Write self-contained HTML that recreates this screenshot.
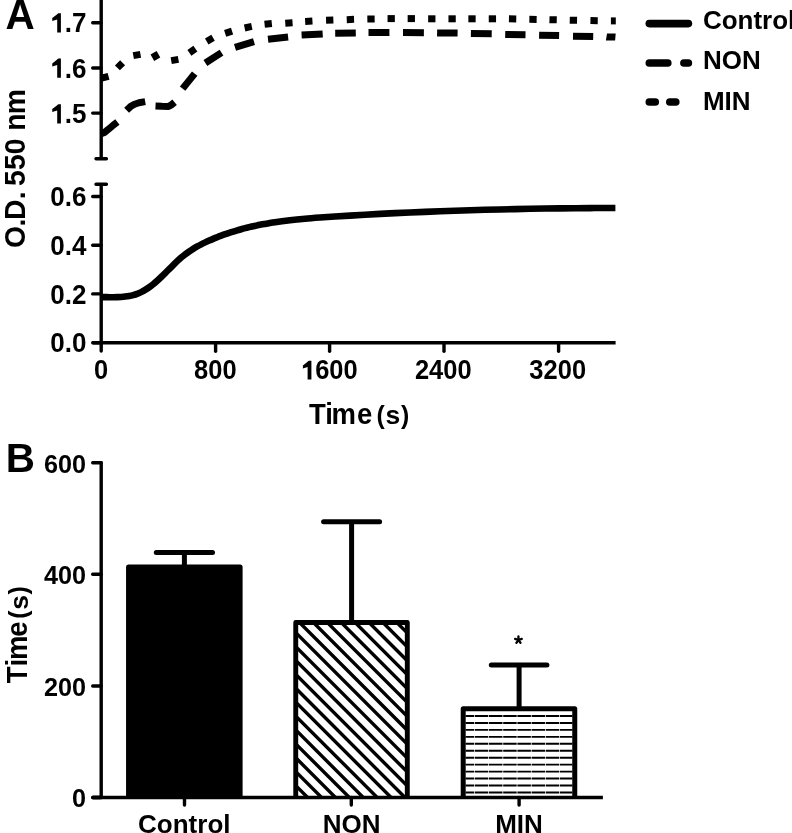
<!DOCTYPE html>
<html><head><meta charset="utf-8"><style>
html,body{margin:0;padding:0;background:#fff;}
svg{display:block;will-change:transform;}
text{font-family:"Liberation Sans",sans-serif;font-weight:bold;fill:#000;}
.ax{stroke:#000;stroke-width:3.4;fill:none;stroke-linecap:round;}
.tl{font-size:26px;}
.lg{font-size:26px;}
.dash{stroke:#000;stroke-width:7;fill:none;stroke-linecap:butt;stroke-linejoin:round;}
.leg{stroke:#000;stroke-width:7.6;fill:none;stroke-linecap:round;}
.eb{stroke:#000;stroke-width:5;fill:none;stroke-linecap:round;}
</style></head><body>
<svg width="792" height="833" viewBox="0 0 792 833">
<text transform="translate(5.4,28.8) scale(1,1.04)" style="font-size:40.5px">A</text>
<path d="M101.2,-3 V158.7 M96,158.7 H106.4" class="ax"/>
<path d="M92.7,22.7 H101.2" class="ax"/>
<path d="M92.7,68.0 H101.2" class="ax"/>
<path d="M92.7,113.1 H101.2" class="ax"/>
<path d="M96,184.3 H106.4 M101.2,184.3 V351.1" class="ax"/>
<path d="M92.7,196.5 H101.2" class="ax"/>
<path d="M92.7,245.2 H101.2" class="ax"/>
<path d="M92.7,293.9 H101.2" class="ax"/>
<path d="M92.7,342.7 H615.6" class="ax" style="stroke-linecap:butt"/>
<path d="M92.7,342.7 H100" class="ax"/>
<path d="M215.6,342.7 V351.2" class="ax"/>
<path d="M329.6,342.7 V351.2" class="ax"/>
<path d="M444.0,342.7 V351.2" class="ax"/>
<path d="M558.6,342.7 V351.2" class="ax"/>
<text transform="translate(86.5,32.45) scale(1,1.09)" text-anchor="end" style="font-size:26px">.7</text>
<path d="M60.90,32.45 L57.20,32.45 L57.20,19.60 L52.25,21.10 L52.25,18.10 L56.90,14.50 Q57.60,13.35 58.40,13.15 L60.90,13.15 Z" fill="#000"/>
<text transform="translate(86.5,77.75) scale(1,1.09)" text-anchor="end" style="font-size:26px">.6</text>
<path d="M60.90,77.75 L57.20,77.75 L57.20,64.90 L52.25,66.40 L52.25,63.40 L56.90,59.80 Q57.60,58.65 58.40,58.45 L60.90,58.45 Z" fill="#000"/>
<text transform="translate(86.5,123.45) scale(1,1.09)" text-anchor="end" style="font-size:26px">.5</text>
<path d="M60.90,123.45 L57.20,123.45 L57.20,110.60 L52.25,112.10 L52.25,109.10 L56.90,105.50 Q57.60,104.35 58.40,104.15 L60.90,104.15 Z" fill="#000"/>
<text transform="translate(86.5,206.25) scale(1,1.09)" text-anchor="end" style="font-size:26px">0.6</text>
<text transform="translate(86.5,254.95) scale(1,1.09)" text-anchor="end" style="font-size:26px">0.4</text>
<text transform="translate(86.5,303.75) scale(1,1.09)" text-anchor="end" style="font-size:26px">0.2</text>
<text transform="translate(86.5,352.45) scale(1,1.09)" text-anchor="end" style="font-size:26px">0.0</text>
<text transform="translate(101.2,379.20) scale(1,1.075)" text-anchor="middle" style="font-size:25.5px">0</text>
<text transform="translate(215.3,379.20) scale(1,1.075)" text-anchor="middle" style="font-size:25.5px">800</text>
<text transform="translate(443.3,379.20) scale(1,1.075)" text-anchor="middle" style="font-size:25.5px">2400</text>
<text transform="translate(557.7,379.20) scale(1,1.075)" text-anchor="middle" style="font-size:25.5px">3200</text>
<text transform="translate(357.7,379.20) scale(1,1.075)" text-anchor="end" style="font-size:25.5px">600</text>
<path d="M311.40,379.60 L307.60,379.60 L307.60,367.02 L302.90,368.49 L302.90,365.55 L307.30,362.02 Q308.00,360.90 308.80,360.70 L311.40,360.70 Z" fill="#000"/>
<text transform="translate(0,423.8) scale(1,1.07)" x="309.1 325.2 331.5 356.9" y="0" style="font-size:27.5px">Time</text>
<text transform="translate(0,424.0) scale(1,1.07)" x="376.6" y="0" style="font-size:24.8px">(</text>
<text transform="translate(0,424.1)" x="385.6" y="0" style="font-size:26.5px">s</text>
<text transform="translate(0,424.0) scale(1,1.07)" x="400.9" y="0" style="font-size:24.8px">)</text>
<g transform="translate(25.0,246.8) rotate(-90) scale(1,1.03)"><text x="-1.13 20.18 26.78 47.68 60.87 76.77 92.57 115.96 132.56" y="0" style="font-size:28.3px">O.D.550nm</text></g>
<path d="M101.20,297.14 C101.87,297.14 103.87,297.13 105.20,297.14 C106.53,297.15 107.87,297.17 109.20,297.18 C110.53,297.19 111.87,297.21 113.20,297.21 C114.53,297.21 115.87,297.20 117.20,297.16 C118.53,297.12 119.87,297.07 121.20,296.98 C122.53,296.89 123.87,296.77 125.20,296.60 C126.53,296.44 127.87,296.25 129.20,295.99 C130.53,295.74 131.87,295.44 133.20,295.07 C134.53,294.70 135.87,294.29 137.20,293.80 C138.53,293.31 139.87,292.75 141.20,292.11 C142.53,291.47 143.87,290.75 145.20,289.95 C146.53,289.15 147.87,288.25 149.20,287.29 C150.53,286.33 151.87,285.28 153.20,284.19 C154.53,283.10 155.87,281.93 157.20,280.73 C158.53,279.53 159.87,278.28 161.20,277.01 C162.53,275.74 163.87,274.41 165.20,273.09 C166.53,271.76 167.87,270.40 169.20,269.06 C170.53,267.72 171.87,266.37 173.20,265.06 C174.53,263.75 175.87,262.44 177.20,261.20 C178.53,259.96 179.87,258.75 181.20,257.61 C182.53,256.47 183.87,255.39 185.20,254.37 C186.53,253.35 187.87,252.39 189.20,251.47 C190.53,250.55 191.87,249.68 193.20,248.85 C194.53,248.02 195.87,247.24 197.20,246.49 C198.53,245.74 199.87,245.03 201.20,244.35 C202.53,243.66 203.87,243.01 205.20,242.38 C206.53,241.75 207.87,241.15 209.20,240.56 C210.53,239.97 211.87,239.40 213.20,238.84 C214.53,238.28 215.87,237.75 217.20,237.22 C218.53,236.69 219.87,236.18 221.20,235.68 C222.53,235.18 223.87,234.70 225.20,234.23 C226.53,233.76 227.87,233.31 229.20,232.87 C230.53,232.43 231.87,232.00 233.20,231.58 C234.53,231.16 235.87,230.76 237.20,230.37 C238.53,229.98 239.87,229.60 241.20,229.23 C242.53,228.86 243.87,228.51 245.20,228.17 C246.53,227.83 247.87,227.49 249.20,227.17 C250.53,226.85 251.87,226.54 253.20,226.24 C254.53,225.94 256.07,225.61 257.20,225.37 C258.33,225.13 257.03,225.33 260.00,224.80 C262.97,224.27 270.00,222.95 275.00,222.18 C280.00,221.41 285.00,220.78 290.00,220.20 C295.00,219.62 300.00,219.14 305.00,218.70 C310.00,218.25 315.00,217.89 320.00,217.53 C325.00,217.17 330.00,216.85 335.00,216.53 C340.00,216.21 345.00,215.90 350.00,215.60 C355.00,215.30 360.00,215.01 365.00,214.73 C370.00,214.45 375.00,214.18 380.00,213.92 C385.00,213.66 390.00,213.41 395.00,213.17 C400.00,212.93 405.00,212.70 410.00,212.48 C415.00,212.26 420.00,212.04 425.00,211.84 C430.00,211.64 435.00,211.45 440.00,211.26 C445.00,211.07 450.00,210.89 455.00,210.72 C460.00,210.55 465.00,210.39 470.00,210.24 C475.00,210.09 480.00,209.94 485.00,209.81 C490.00,209.68 495.00,209.55 500.00,209.43 C505.00,209.31 510.00,209.20 515.00,209.10 C520.00,209.00 525.00,208.90 530.00,208.81 C535.00,208.72 540.00,208.63 545.00,208.56 C550.00,208.49 555.00,208.42 560.00,208.36 C565.00,208.30 570.00,208.25 575.00,208.20 C580.00,208.15 585.00,208.11 590.00,208.08 C595.00,208.05 600.77,208.02 605.00,208.00 C609.23,207.98 613.67,207.97 615.40,207.96" fill="none" stroke="#000" stroke-width="6.6" stroke-linejoin="round"/>
<path d="M101.2,133.6 L104.5,132.4 L108.0,129.6 L112.5,125.8 L117.4,122.0" class="dash"/>
<path d="M126.6,110.3 L130.5,106.6 L134.5,104.2 L139.0,102.7 L145.2,101.6" class="dash"/>
<path d="M155.5,106.0 L162.0,106.3 L168.5,106.4 L171.5,104.8 L174.6,102.2" class="dash"/>
<path d="M182.6,88.6 L194.7,73.6" class="dash"/>
<path d="M205.4,63.0 L221.5,52.6" class="dash"/>
<path d="M235.0,47.4 L254.0,41.6" class="dash"/>
<path d="M268.0,39.3 L288.1,36.9" class="dash"/>
<path d="M301.6,35.1 L322.7,33.9" class="dash"/>
<path d="M335.2,33.3 L355.8,33.0" class="dash"/>
<path d="M368.5,32.5 L389.4,32.4" class="dash"/>
<path d="M403.0,32.6 L423.9,32.7" class="dash"/>
<path d="M437.1,33.0 L457.6,33.1" class="dash"/>
<path d="M470.9,33.5 L491.7,33.8" class="dash"/>
<path d="M505.2,34.4 L525.5,34.8" class="dash"/>
<path d="M539.1,35.2 L559.1,35.6" class="dash"/>
<path d="M573.0,36.2 L593.2,36.6" class="dash"/>
<path d="M101.47,78.24 L108.53,76.36" class="dash"/>
<path d="M117.42,67.88 L122.58,62.72" class="dash"/>
<path d="M133.31,55.63 L140.49,54.37" class="dash"/>
<path d="M153.58,52.84 L157.22,59.16" class="dash"/>
<path d="M171.21,60.63 L178.39,59.37" class="dash"/>
<path d="M189.41,52.79 L195.39,48.61" class="dash"/>
<path d="M206.74,41.43 L213.06,37.77" class="dash"/>
<path d="M225.13,33.33 L232.07,31.07" class="dash"/>
<path d="M244.63,27.96 L251.77,26.44" class="dash"/>
<path d="M264.57,24.28 L271.83,23.52" class="dash"/>
<path d="M285.26,23.15 L292.54,22.65" class="dash"/>
<path d="M305.16,21.39 L312.44,21.01" class="dash"/>
<path d="M326.05,20.33 L333.35,20.07" class="dash"/>
<path d="M346.75,19.63 L354.05,19.37" class="dash"/>
<path d="M367.35,19.06 L374.65,18.94" class="dash"/>
<path d="M387.55,18.60 L394.85,18.60" class="dash"/>
<path d="M407.65,18.60 L414.95,18.60" class="dash"/>
<path d="M428.15,18.80 L435.45,18.80" class="dash"/>
<path d="M448.45,18.80 L455.75,18.80" class="dash"/>
<path d="M468.35,18.80 L475.65,18.80" class="dash"/>
<path d="M488.75,18.80 L496.05,18.80" class="dash"/>
<path d="M508.95,18.84 L516.25,18.96" class="dash"/>
<path d="M529.35,19.34 L536.65,19.46" class="dash"/>
<path d="M549.45,19.64 L556.75,19.76" class="dash"/>
<path d="M569.75,20.14 L577.05,20.26" class="dash"/>
<path d="M590.45,20.54 L597.75,20.66" class="dash"/>
<path d="M610.9,20.9 L615.8,20.9" class="dash"/>
<path d="M607.0,33.6 L615.7,33.6 L615.1,40.4 L605.9,40.4 Z" fill="#000"/>
<path d="M649.3,23.6 H688.4" class="leg"/>
<path d="M649.3,63 H667.8 M683.9,63 H688.4" class="leg"/>
<path d="M649.3,102 H655.3 M669.8,102 H675.8" class="leg"/>
<text x="702.9" y="28.6" class="lg">Control</text>
<text x="702.9" y="69.3" class="lg">NON</text>
<text x="702.9" y="109.5" class="lg">MIN</text>
<text transform="translate(5.7,472.1) scale(1,1.02)" style="font-size:40.5px">B</text>
<path d="M101.2,462.7 V797.5" class="ax"/>
<path d="M92.7,462.7 H101.2" class="ax"/>
<text transform="translate(86.0,472.50) scale(1,1.05)" text-anchor="end" style="font-size:25.2px">600</text>
<path d="M92.7,574.2 H101.2" class="ax"/>
<text transform="translate(86.0,584.00) scale(1,1.05)" text-anchor="end" style="font-size:25.2px">400</text>
<path d="M92.7,686.0 H101.2" class="ax"/>
<text transform="translate(86.0,695.80) scale(1,1.05)" text-anchor="end" style="font-size:25.2px">200</text>
<path d="M92.7,797.5 H101.2" class="ax"/>
<text transform="translate(86.0,807.30) scale(1,1.05)" text-anchor="end" style="font-size:25.2px">0</text>
<path d="M92.7,797.5 H602.9" class="ax" style="stroke-linecap:butt"/>
<path d="M92.7,797.5 H100" class="ax"/>
<path d="M184.5,797.5 V805" class="ax"/>
<path d="M351.3,797.5 V805" class="ax"/>
<path d="M519.1,797.5 V805" class="ax"/>
<text x="184.3" y="832.6" class="tl" text-anchor="middle">Control</text>
<text x="351.7" y="832.6" class="tl" text-anchor="middle">NON</text>
<text x="519.0" y="832.6" class="tl" text-anchor="middle">MIN</text>
<g transform="translate(27.4,683) rotate(-90) scale(1,1.07)"><text x="-0.28 16.6 23.0 46.2" y="0" style="font-size:27.5px">Time</text><text x="64.3" y="0" style="font-size:24.8px">(</text><text x="88.5" y="0" style="font-size:24.8px">)</text></g>
<g transform="translate(27.5,683) rotate(-90)"><text x="73.3" y="0" style="font-size:26.5px">s</text></g>
<rect x="128.56" y="567.0" width="111.54" height="229.5" fill="#000" stroke="#000" stroke-width="5" stroke-linejoin="round"/>
<path d="M184.4,566 V552.6" class="eb" style="stroke-linecap:butt"/>
<path d="M156.3,552.6 H212.5" class="eb"/>
<path d="M351.6,623 V521.8" class="eb" style="stroke-linecap:butt"/>
<path d="M323.6,521.8 H379.6" class="eb"/>
<path d="M519.1,709 V665.1" class="eb" style="stroke-linecap:butt"/>
<path d="M491.3,665.1 H546.9" class="eb"/>
<clipPath id="cn"><rect x="297.8" y="624.5" width="107.4" height="172"/></clipPath>
<path d="M19.00,620 L199.00,800 M32.90,620 L212.90,800 M46.80,620 L226.80,800 M60.70,620 L240.70,800 M74.60,620 L254.60,800 M88.50,620 L268.50,800 M102.40,620 L282.40,800 M116.30,620 L296.30,800 M130.20,620 L310.20,800 M144.10,620 L324.10,800 M158.00,620 L338.00,800 M171.90,620 L351.90,800 M185.80,620 L365.80,800 M199.70,620 L379.70,800 M213.60,620 L393.60,800 M227.50,620 L407.50,800 M241.40,620 L421.40,800 M255.30,620 L435.30,800 M269.20,620 L449.20,800 M283.10,620 L463.10,800 M297.00,620 L477.00,800 M310.90,620 L490.90,800 M324.80,620 L504.80,800 M338.70,620 L518.70,800 M352.60,620 L532.60,800 M366.50,620 L546.50,800 M380.40,620 L560.40,800 M394.30,620 L574.30,800 M408.20,620 L588.20,800 M422.10,620 L602.10,800 M436.00,620 L616.00,800 M449.90,620 L629.90,800 M463.80,620 L643.80,800 M477.70,620 L657.70,800 M491.60,620 L671.60,800 M505.50,620 L685.50,800 M519.40,620 L699.40,800 M533.30,620 L713.30,800 M547.20,620 L727.20,800 M561.10,620 L741.10,800" clip-path="url(#cn)" stroke="#000" stroke-width="3.4" fill="none"/>
<path d="M295.75,797.5 V622.55 H407.3 V797.5" fill="none" stroke="#000" stroke-width="4.9" stroke-linejoin="round"/>
<path d="M465.5,716.00 H572.5 M465.5,722.95 H572.5 M465.5,729.90 H572.5 M465.5,736.85 H572.5 M465.5,743.80 H572.5 M465.5,750.75 H572.5 M465.5,757.70 H572.5 M465.5,764.65 H572.5 M465.5,771.60 H572.5 M465.5,778.55 H572.5 M465.5,785.50 H572.5 M465.5,792.45 H572.5" stroke="#000" stroke-width="1.9" fill="none" stroke-dasharray="13.5 0.7" stroke-dashoffset="4.9"/>
<path d="M463.2,797.5 V708.75 H574.75 V797.5" fill="none" stroke="#000" stroke-width="5" stroke-linejoin="round"/>
<path d="M518.45,640 l0.00,-3.50 M518.45,640 l3.33,-1.08 M518.45,640 l2.06,2.83 M518.45,640 l-2.06,2.83 M518.45,640 l-3.33,-1.08" stroke="#000" stroke-width="2.3" stroke-linecap="round" fill="none"/>
</svg>
</body></html>
